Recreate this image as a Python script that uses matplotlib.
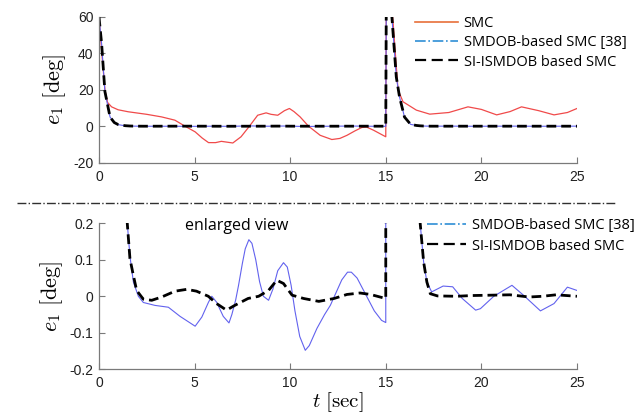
import matplotlib
matplotlib.use("Agg")
import matplotlib.pyplot as plt
from matplotlib.lines import Line2D

plt.rcParams["mathtext.fontset"] = "cm"
plt.rcParams["axes.unicode_minus"] = False
plt.rcParams["font.family"] = ["Liberation Sans", "DejaVu Sans"]

# SMC (red) - only visible in the upper plot
t_smc = [0, 0.15, 0.31, 0.45, 0.66, 1.0, 1.53, 2.5, 3.27, 3.97, 4.5, 5.03, 5.4,
         5.73, 6.1, 6.4, 7.0, 7.43, 7.87, 8.3, 8.74, 9.0, 9.35, 9.7, 9.96, 10.2,
         10.52, 10.96, 11.57, 12.18, 12.6, 12.97, 13.4, 13.75, 14.0, 14.36, 15.0,
         15.03, 15.36, 15.64, 15.9, 16.6, 17.3, 18.3, 19.3, 20.0, 20.8, 21.5, 22.1,
         23.0, 23.8, 24.5, 25.0]
e_smc = [60, 40, 20, 13, 10.6, 9, 7.9, 6.5, 5.1, 3.3, 0, -3.1, -6.5,
         -9, -9, -8.3, -9.2, -5.8, 0, 6, 7.3, 6.5, 6, 8.5, 9.7, 8,
         5.1, 0, -5, -7.3, -6.7, -5, -2.5, -0.7, -0.5, -2.2, -5.8,
         75, 60, 20, 13.4, 8.8, 6.6, 7.5, 10.6, 9.2, 6.2, 8.0, 10.6,
         8.5, 6.2, 7.5, 9.7]

# SMDOB-based SMC [38] (blue)
t_smdob = [0, 0.14, 0.31, 0.58, 0.8, 1.0, 1.2, 1.4, 1.48, 1.62, 1.8, 2.06, 2.32,
           2.93, 3.63, 4.24, 4.68, 5.03, 5.38, 5.73, 5.9, 6.15, 6.5, 6.8, 6.95,
           7.15, 7.3, 7.5, 7.65, 7.84, 8.0, 8.2, 8.4, 8.6, 8.87, 9.1, 9.35, 9.65,
           9.85, 10.05, 10.25, 10.5, 10.79, 11.0, 11.4, 11.8, 12.1, 12.4, 12.7,
           13.0, 13.2, 13.5, 13.8, 14.1, 14.4, 14.78, 15.0, 15.03, 15.32, 15.55,
           15.72, 15.98, 16.3, 16.6, 16.8, 16.98, 17.15, 17.4, 18.0, 18.5, 19.0,
           19.7, 19.95, 20.65, 21.6, 22.2, 23.09, 23.8, 24.5, 25.0]
e_smdob = [60, 45, 19, 5, 2, 0.9, 0.5, 0.25, 0.2, 0.11, 0.039, 0.0, -0.017,
           -0.025, -0.03, -0.055, -0.07, -0.082, -0.057, -0.016, 0.0, -0.016, -0.055, -0.073, -0.05,
           -0.01, 0.03, 0.09, 0.13, 0.155, 0.145, 0.1, 0.04, 0.0, -0.011, 0.02, 0.07, 0.092,
           0.08, 0.03, -0.04, -0.11, -0.148, -0.135, -0.088, -0.05, -0.025, 0.01, 0.045,
           0.066, 0.066, 0.05, 0.02, -0.01, -0.04, -0.066, -0.072, 75, 60, 27,
           16, 5, 1, 0.4, 0.2, 0.094, 0.039, 0.012, 0.028, 0.026, -0.006,
           -0.038, -0.034, 0.0, 0.03, 0.003, -0.04, -0.02, 0.025, 0.016]

# SI-ISMDOB based SMC (black dashed)
t_si = [0, 0.14, 0.31, 0.58, 0.8, 1.0, 1.2, 1.4, 1.48, 1.62, 1.8, 1.97, 2.32,
        2.76, 3.28, 3.98, 4.59, 5.1, 5.72, 6.15, 6.67, 7.1, 7.8, 8.35, 8.87,
        9.3, 9.65, 10.1, 10.7, 11.5, 12.3, 12.97, 13.65, 14.2, 14.7, 15.0, 15.03,
        15.32, 15.55, 15.72, 15.98, 16.3, 16.6, 16.8, 16.98, 17.15, 17.33, 17.7,
        18.7, 19.5, 20.5, 21.5, 22.5, 23.2, 23.9, 25.0]
e_si = [60, 45, 19, 5, 2, 0.9, 0.5, 0.25, 0.2, 0.103, 0.057, 0.016, -0.008,
        -0.011, -0.002, 0.014, 0.019, 0.014, 0.0, -0.02, -0.038, -0.025, -0.006, 0.0, 0.016,
        0.044, 0.035, 0.003, -0.006, -0.014, -0.006, 0.005, 0.009, 0.005, -0.002, -0.006, 75,
        60, 27, 16, 5, 1, 0.4, 0.2, 0.094, 0.039, 0.007, 0.001,
        0.0, 0.002, 0.003, 0.004, -0.002, 0.0, 0.004, 0.0]

x_ticks = [0, 5, 10, 15, 20, 25]
y_ticks_top = [-20, 0, 20, 40, 60]
y_ticks_bot = [-0.2, -0.1, 0, 0.1, 0.2]
y_labels_bot = ["-0.2", "-0.1", "0", "0.1", "0.2"]

red = "#f04a4a"
blue = "#6262ee"
dash = (0, (3.5, 1.8))
label_font = ["Open Sans", "DejaVu Sans"]

fig = plt.figure(figsize=(6.41, 4.16), dpi=100)
ax1 = fig.add_axes([0.1544, 0.6089, 0.7457, 0.351])
ax2 = fig.add_axes([0.1544, 0.1123, 0.7457, 0.351])

ax1.plot(t_smc, e_smc, color=red, lw=0.9)
ax1.plot(t_smdob, e_smdob, color=blue, lw=0.8)
ax1.plot(t_si, e_si, color="black", lw=2.0, linestyle=dash)

ax2.plot(t_smdob, e_smdob, color=blue, lw=0.8)
ax2.plot(t_si, e_si, color="black", lw=2.0, linestyle=dash)

for ax in (ax1, ax2):
    ax.set_xlim(0, 25)
    ax.set_xticks(x_ticks)
    for s in ("top", "right"):
        ax.spines[s].set_visible(False)
    for s in ("left", "bottom"):
        ax.spines[s].set_color("#7a7a7a")
        ax.spines[s].set_linewidth(0.9)
    ax.tick_params(direction="in", length=4, color="#7a7a7a", labelsize=10,
                   labelcolor="#202020")
    ax.tick_params(axis="x", pad=5)
    ax.tick_params(axis="y", pad=4)

ax1.set_ylim(-20, 60)
ax1.set_yticks(y_ticks_top)
ax1.set_ylabel(r"$e_1\ [\mathrm{deg}]$", fontsize=16, labelpad=4)

ax2.set_ylim(-0.2, 0.2)
ax2.set_yticks(y_ticks_bot)
ax2.set_yticklabels(y_labels_bot)
ax2.set_ylabel(r"$e_1\ [\mathrm{deg}]$", fontsize=16, labelpad=3)
ax2.set_xlabel(r"$t\ [\mathrm{sec}]$", fontsize=15, labelpad=0)

ax2.text(7.2, 0.193, "enlarged view", ha="center", va="center",
         fontsize=11.5, family=label_font)

# legends with proxy handles
h_smc = Line2D([], [], color="#e8703a", lw=1.2)
h_smdob = Line2D([], [], color="#2f8fd6", lw=1.2, linestyle="-.")
h_si = Line2D([], [], color="black", lw=1.6, linestyle=(0, (5, 2.5)))

fig.legend([h_smc, h_smdob, h_si],
           ["SMC", "SMDOB-based SMC [38]", "SI-ISMDOB based SMC"],
           loc="upper left", bbox_to_anchor=(0.647, 0.962), frameon=False,
           borderpad=0, borderaxespad=0, handlelength=3.0, handletextpad=0.35,
           labelspacing=0.3, prop={"family": label_font, "size": 10.5})
fig.legend([h_smdob, h_si],
           ["SMDOB-based SMC [38]", "SI-ISMDOB based SMC"],
           loc="upper left", bbox_to_anchor=(0.666, 0.475), frameon=False,
           borderpad=0, borderaxespad=0, handlelength=2.7, handletextpad=0.4,
           labelspacing=0.35, prop={"family": label_font, "size": 10.5})

# separator between the two panels
fig.add_artist(Line2D([0.026, 0.96], [0.513, 0.513], transform=fig.transFigure,
                      color="#303030", lw=1.0, linestyle="-."))

fig.savefig("out.png", dpi=100)
